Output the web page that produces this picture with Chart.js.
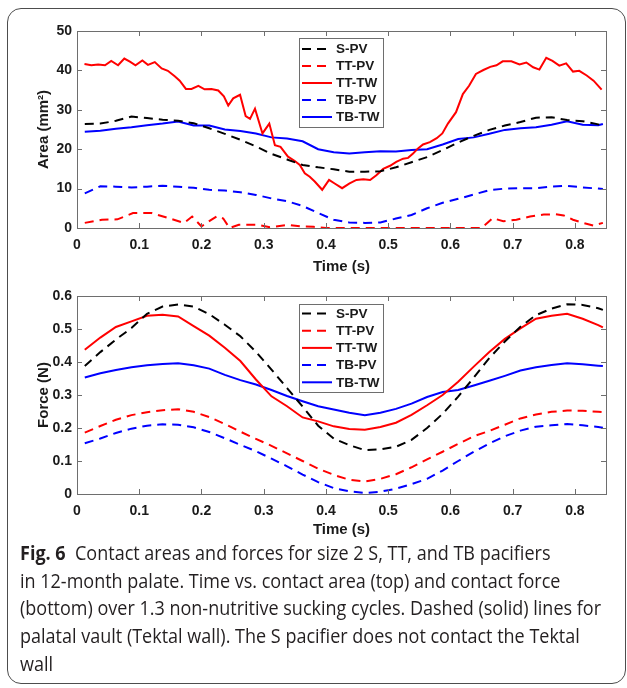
<!DOCTYPE html>
<html>
<head>
<meta charset="utf-8">
<script src="https://cdn.jsdelivr.net/npm/chart.js@4"></script>
<style>
  body { margin: 0; background: #fff; width: 627px; height: 688px; overflow: hidden; position: relative; }
  .frame { position: absolute; left: 7px; top: 8px; width: 619px; height: 676px; border: 1.5px solid #4d4d4d; border-radius: 14px; box-sizing: border-box; }
  #areaBox { position: absolute; left: 0; top: 0; width: 627px; height: 280px; }
  #forceBox { position: absolute; left: 0; top: 280px; width: 627px; height: 260px; }
  .caption { position: absolute; left: 20px; top: 539px; font-family: "Open Sans", sans-serif; font-size: 20px; line-height: 27.7px; color: #231f20; white-space: nowrap; transform-origin: 0 0; }
  .caption b { font-weight: 700; }
</style>
</head>
<body>
<div class="frame"></div>
<div id="areaBox"><canvas id="areaChart"></canvas></div>
<div id="forceBox"><canvas id="forceChart"></canvas></div>
<div class="caption" id="caption">
  <span><b>Fig. 6</b>&nbsp; Contact areas and forces for size 2 S, TT, and TB pacifiers</span><br>
  <span>in 12-month palate. Time vs. contact area (top) and contact force</span><br>
  <span id="longLine">(bottom) over 1.3 non-nutritive sucking cycles. Dashed (solid) lines for</span><br>
  <span>palatal vault (Tektal wall). The S pacifier does not contact the Tektal</span><br>
  <span>wall</span>
</div>
<script>
"use strict";
// noms des series (ordre de la legende)
const seriesNames = ["S-PV", "TT-PV", "TT-TW", "TB-PV", "TB-TW"];

// graduations
const timeTicks = [0, 0.1, 0.2, 0.3, 0.4, 0.5, 0.6, 0.7, 0.8];
const areaTicks = [0, 10, 20, 30, 40, 50];
const forceTicks = [0, 0.1, 0.2, 0.3, 0.4, 0.5, 0.6];

// temps commun (s)
const time = [0.0125, 0.0375, 0.0625, 0.0875, 0.1125, 0.1375, 0.1625, 0.1875, 0.2125, 0.2375,
  0.2625, 0.2875, 0.3125, 0.3375, 0.3625, 0.3875, 0.4125, 0.4375, 0.4625, 0.4875,
  0.5125, 0.5375, 0.5625, 0.5875, 0.6125, 0.6375, 0.6625, 0.6875, 0.7125, 0.7375,
  0.7625, 0.7875, 0.8125, 0.8375, 0.845];

// ---- aire de contact (mm2)
const areaSPV = [26.4, 26.5, 27.2, 28.3, 27.9, 27.5, 27.2, 26.6, 25.3, 23.9,
  22.4, 20.7, 18.8, 17.4, 16.0, 15.4, 14.9, 14.3, 14.3, 14.4,
  15.4, 16.7, 18.0, 19.8, 21.7, 23.4, 24.9, 26.0, 26.9, 28.0,
  28.1, 27.4, 27.1, 26.3, 26.0];
const areaTBTW = [24.4, 24.7, 25.2, 25.6, 26.1, 26.5, 27.0, 26.0, 26.0, 25.0,
  24.6, 24.0, 23.0, 22.7, 22.0, 20.0, 19.2, 18.9, 19.2, 19.5,
  19.4, 19.8, 20.0, 21.2, 22.6, 23.0, 23.9, 24.9, 25.3, 25.6,
  26.2, 27.1, 26.2, 26.1, 26.4];
const areaTBPV = [8.8, 10.6, 10.5, 10.3, 10.5, 10.7, 10.5, 10.2, 9.7, 9.5,
  9.1, 8.4, 7.5, 6.8, 5.6, 3.8, 2.1, 1.4, 1.3, 1.4,
  2.4, 3.3, 5.0, 6.4, 7.4, 8.5, 9.6, 10.0, 10.1, 10.1,
  10.5, 10.7, 10.3, 10.0, 9.9];
// TT-TW : plus de points (courbe en dents de scie)
const timeTTTW = [0.012, 0.023, 0.034, 0.045, 0.055, 0.066, 0.076, 0.085, 0.094, 0.105,
  0.114, 0.125, 0.136, 0.146, 0.157, 0.165, 0.175, 0.184, 0.195, 0.205,
  0.216, 0.227, 0.236, 0.243, 0.251, 0.262, 0.271, 0.278, 0.286, 0.298,
  0.309, 0.318, 0.327, 0.339, 0.350, 0.358, 0.366, 0.374, 0.382, 0.394,
  0.405, 0.414, 0.426, 0.438, 0.449, 0.460, 0.471, 0.481, 0.492, 0.503,
  0.513, 0.524, 0.532, 0.540, 0.548, 0.556, 0.567, 0.578, 0.587, 0.596,
  0.609, 0.620, 0.630, 0.641, 0.653, 0.664, 0.674, 0.684, 0.698, 0.711,
  0.722, 0.733, 0.743, 0.754, 0.764, 0.775, 0.786, 0.797, 0.807, 0.819,
  0.830, 0.843];
const areaTTTW = [41.6, 41.3, 41.5, 41.3, 42.4, 41.3, 43.0, 42.2, 41.3, 42.5,
  41.4, 42.1, 40.5, 39.9, 38.5, 37.4, 35.3, 35.3, 36.1, 35.2,
  35.3, 34.9, 33.4, 31.1, 32.9, 33.8, 28.4, 27.7, 30.3, 24.0,
  26.5, 21.0, 20.6, 18.1, 17.0, 16.0, 13.9, 13.0, 11.8, 9.7,
  12.2, 11.3, 10.1, 11.3, 12.2, 12.4, 12.2, 13.4, 15.0, 15.8,
  16.8, 17.6, 17.8, 18.9, 20.2, 21.2, 21.8, 22.8, 24.0, 26.5,
  29.4, 34.0, 36.1, 39.1, 40.1, 40.9, 41.3, 42.3, 42.3, 41.5,
  42.0, 40.8, 40.2, 43.2, 42.4, 41.2, 41.8, 39.7, 39.9, 38.7,
  37.4, 35.1];
const timeTTPV = [0.0125, 0.04, 0.065, 0.09, 0.12, 0.145, 0.172, 0.185, 0.2, 0.215,
  0.225, 0.235, 0.245, 0.26, 0.29, 0.31, 0.34, 0.36, 0.38, 0.40,
  0.65, 0.668, 0.685, 0.706, 0.728, 0.75, 0.768, 0.782, 0.797, 0.813,
  0.83, 0.845];
const areaTTPV = [1.3, 2.1, 2.2, 3.8, 3.8, 2.6, 1.3, 2.9, 0.4, 2.0,
  3.0, 2.4, 0, 0.8, 0.8, 0.2, 0.8, 0.4, 0.3, 0,
  0, 2.5, 1.7, 2.1, 2.9, 3.4, 3.5, 3.2, 2.1, 1.3,
  0.6, 1.3];

// ---- force de contact (N)
const forceSPV = [0.388, 0.430, 0.468, 0.503, 0.546, 0.568, 0.574, 0.568, 0.545, 0.513,
  0.478, 0.431, 0.377, 0.321, 0.265, 0.207, 0.168, 0.148, 0.133, 0.135,
  0.143, 0.164, 0.200, 0.243, 0.295, 0.353, 0.412, 0.462, 0.507, 0.542,
  0.562, 0.575, 0.573, 0.563, 0.558];
const forceTTPV = [0.186, 0.206, 0.225, 0.239, 0.248, 0.254, 0.257, 0.249, 0.233, 0.212,
  0.189, 0.167, 0.146, 0.123, 0.100, 0.077, 0.058, 0.043, 0.038, 0.046,
  0.060, 0.081, 0.105, 0.128, 0.152, 0.175, 0.191, 0.210, 0.229, 0.241,
  0.249, 0.253, 0.252, 0.249, 0.248];
const forceTTTW = [0.437, 0.474, 0.506, 0.523, 0.540, 0.543, 0.538, 0.509, 0.480, 0.443,
  0.403, 0.347, 0.296, 0.266, 0.232, 0.220, 0.205, 0.197, 0.195, 0.203,
  0.216, 0.240, 0.269, 0.300, 0.340, 0.386, 0.430, 0.470, 0.502, 0.531,
  0.540, 0.546, 0.531, 0.512, 0.505];
const forceTBPV = [0.154, 0.168, 0.185, 0.198, 0.207, 0.211, 0.210, 0.202, 0.188, 0.169,
  0.149, 0.130, 0.107, 0.084, 0.059, 0.036, 0.018, 0.008, 0.003, 0.007,
  0.016, 0.030, 0.046, 0.071, 0.100, 0.128, 0.153, 0.175, 0.192, 0.204,
  0.208, 0.212, 0.208, 0.203, 0.201];
const forceTBTW = [0.353, 0.366, 0.376, 0.384, 0.390, 0.394, 0.396, 0.390, 0.380, 0.361,
  0.345, 0.332, 0.315, 0.297, 0.281, 0.266, 0.256, 0.246, 0.239, 0.246,
  0.258, 0.274, 0.294, 0.309, 0.315, 0.329, 0.343, 0.358, 0.374, 0.384,
  0.391, 0.396, 0.393, 0.389, 0.388];

const fontFam = '"Liberation Sans", Arial, sans-serif';
const axisCol = "#6e6e6e";
const dash = [9, 6];

const pts = (xs, ys) => xs.map((x, i) => ({ x: x, y: ys[i] }));

const makeSet = (label, xs, ys, color, dashed) => ({
  label: label,
  data: pts(xs, ys),
  borderColor: color,
  backgroundColor: color,
  borderWidth: 2,
  borderDash: dashed ? dash : [],
  pointRadius: 0,
  tension: 0,
  clip: 4
});

// cadre type matlab avec petites graduations vers l'interieur
const boxPlugin = {
  id: "matBox",
  afterDatasetsDraw(chart) {
    const ctx = chart.ctx;
    const a = chart.chartArea;
    const xs = chart.scales.x, ys = chart.scales.y;
    ctx.save();
    ctx.strokeStyle = axisCol;
    ctx.lineWidth = 1;
    ctx.setLineDash([]);
    ctx.strokeRect(a.left + 0.5, a.top + 0.5, a.right - a.left, a.bottom - a.top);
    ctx.beginPath();
    xs.ticks.forEach(t => {
      const px = Math.round(xs.getPixelForValue(t.value)) + 0.5;
      ctx.moveTo(px, a.bottom); ctx.lineTo(px, a.bottom - 5);
      ctx.moveTo(px, a.top); ctx.lineTo(px, a.top + 5);
    });
    ys.ticks.forEach(t => {
      const py = Math.round(ys.getPixelForValue(t.value)) + 0.5;
      ctx.moveTo(a.left, py); ctx.lineTo(a.left + 5, py);
      ctx.moveTo(a.right, py); ctx.lineTo(a.right - 5, py);
    });
    ctx.stroke();
    ctx.restore();
  }
};

// legende dessinee dans le cadre
const legendPlugin = {
  id: "boxLegend",
  afterDatasetsDraw(chart, args, o) {
    const ctx = chart.ctx;
    ctx.save();
    ctx.fillStyle = "#fff";
    ctx.fillRect(o.x, o.y, o.w, o.h);
    ctx.strokeStyle = axisCol;
    ctx.lineWidth = 1;
    ctx.setLineDash([]);
    ctx.strokeRect(o.x + 0.5, o.y + 0.5, o.w, o.h);
    ctx.font = "bold 13.5px " + fontFam;
    ctx.textBaseline = "middle";
    chart.data.datasets.forEach((ds, i) => {
      const y = o.y + o.first + i * o.row;
      ctx.strokeStyle = ds.borderColor;
      ctx.lineWidth = 2;
      ctx.setLineDash(ds.borderDash);
      ctx.beginPath();
      ctx.moveTo(o.x + 3, y);
      ctx.lineTo(o.x + 33, y);
      ctx.stroke();
      ctx.fillStyle = "#1a1a1a";
      ctx.fillText(ds.label, o.x + 37, y + 0.5);
    });
    ctx.restore();
  }
};

const tickFont = { family: fontFam, size: 14, weight: "bold" };
const titleFont = { family: fontFam, size: 15, weight: "bold" };
const fmt = v => (v === 0 ? "0" : String(+v.toFixed(1)));

const makeOptions = (cfg) => ({
  responsive: true,
  maintainAspectRatio: false,
  animation: false,
  layout: { padding: { left: 0, right: 21, top: cfg.padTop, bottom: 0 } },
  plugins: {
    legend: { display: false },
    tooltip: { enabled: false },
    boxLegend: cfg.legend
  },
  scales: {
    x: {
      type: "linear",
      min: 0,
      max: 0.85,
      ticks: { color: "#1a1a1a", font: tickFont, padding: 9, maxRotation: 0, autoSkip: false, callback: fmt },
      afterBuildTicks: s => { s.ticks = timeTicks.map(v => ({ value: v })); },
      afterFit: s => { s.height = cfg.xHeight; },
      grid: { display: false, drawTicks: false },
      border: { display: false },
      title: { display: true, text: "Time (s)", color: "#1a1a1a", font: titleFont, padding: { top: 0, bottom: cfg.titlePad } }
    },
    y: {
      min: 0,
      max: cfg.yTicks[cfg.yTicks.length - 1],
      ticks: { color: "#1a1a1a", font: tickFont, padding: 5, autoSkip: false, callback: fmt },
      afterBuildTicks: s => { s.ticks = cfg.yTicks.map(v => ({ value: v })); },
      afterFit: s => { s.width = 77; },
      grid: { display: false, drawTicks: false },
      border: { display: false },
      title: { display: true, text: cfg.yTitle, color: "#1a1a1a", font: titleFont, padding: { top: 35, bottom: 35 } }
    }
  }
});

new Chart(document.getElementById("areaChart"), {
  type: "line",
  data: {
    datasets: [
      makeSet(seriesNames[0], time, areaSPV, "#000000", true),
      makeSet(seriesNames[1], timeTTPV, areaTTPV, "#ff0000", true),
      makeSet(seriesNames[2], timeTTTW, areaTTTW, "#ff0000", false),
      makeSet(seriesNames[3], time, areaTBPV, "#0000ff", true),
      makeSet(seriesNames[4], time, areaTBTW, "#0000ff", false)
    ]
  },
  options: makeOptions({
    padTop: 31, xHeight: 52, titlePad: 4, yTicks: areaTicks, yTitle: "Area (mm²)",
    legend: { x: 299, y: 38, w: 84, h: 89, first: 11, row: 17 }
  }),
  plugins: [boxPlugin, legendPlugin]
});

new Chart(document.getElementById("forceChart"), {
  type: "line",
  data: {
    datasets: [
      makeSet(seriesNames[0], time, forceSPV, "#000000", true),
      makeSet(seriesNames[1], time, forceTTPV, "#ff0000", true),
      makeSet(seriesNames[2], time, forceTTTW, "#ff0000", false),
      makeSet(seriesNames[3], time, forceTBPV, "#0000ff", true),
      makeSet(seriesNames[4], time, forceTBTW, "#0000ff", false)
    ]
  },
  options: makeOptions({
    padTop: 16, xHeight: 46, titlePad: 1, yTicks: forceTicks, yTitle: "Force (N)",
    legend: { x: 299, y: 24, w: 84, h: 88, first: 9.5, row: 17.2 }
  }),
  plugins: [boxPlugin, legendPlugin]
});

// la legende du bas est ecrite en police etroite : on resserre le texte
const cap = document.getElementById("caption");
const w = document.getElementById("longLine").getBoundingClientRect().width;
cap.style.transform = "scaleX(" + (581 / w).toFixed(4) + ")";
</script>
</body>
</html>
